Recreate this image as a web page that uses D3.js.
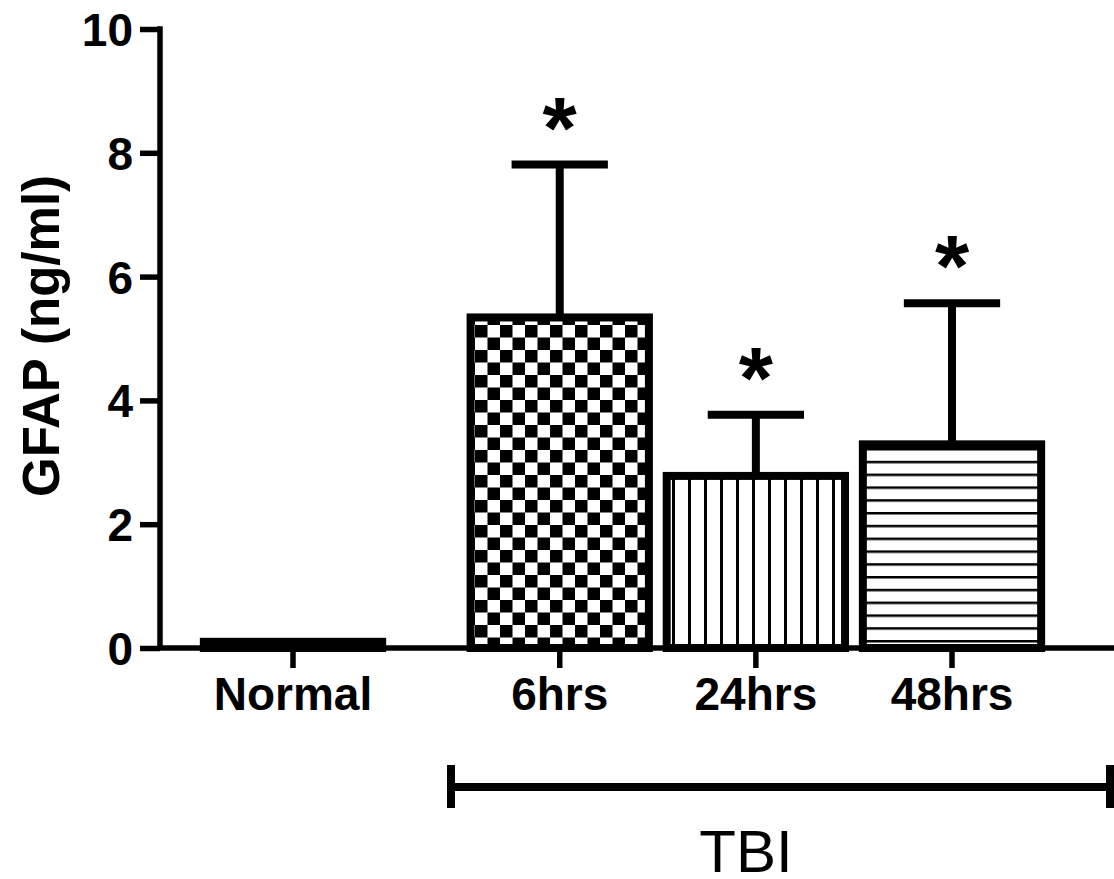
<!DOCTYPE html>
<html>
<head>
<meta charset="utf-8">
<script src="https://cdn.jsdelivr.net/npm/d3@7"></script>
<style>
  body { margin: 0; background: #fff; }
  svg { display: block; }
  text { font-family: "Liberation Sans", Arial, sans-serif; fill: #000; }
</style>
</head>
<body>
<svg></svg>
<script>
var width = 1114;
var height = 879;

// data
var categories = ["Normal", "6hrs", "24hrs", "48hrs"];
var means = [0.1, 5.34, 2.78, 3.29];
var errors = [0, 2.47, 0.99, 2.28];
var significant = [false, true, true, true];
var yTicks = [0, 2, 4, 6, 8, 10];
var groupLabel = "TBI";

var gapAfterFirst = 0.36; // extra space between Normal and the TBI bars
var lineW = 8;
var axisW = 5.5;

var svg = d3.select("svg")
            .attr("width", width)
            .attr("height", height);

// fill patterns
var defs = svg.append("defs");
var checker = defs.append("pattern")
                  .attr("id", "checker")
                  .attr("patternUnits", "userSpaceOnUse")
                  .attr("width", 25).attr("height", 25);
checker.append("rect").attr("width", 25).attr("height", 25).attr("fill", "#fff");
checker.append("rect").attr("width", 12.5).attr("height", 12.5).attr("fill", "#000");
checker.append("rect").attr("x", 12.5).attr("y", 12.5).attr("width", 12.5).attr("height", 12.5).attr("fill", "#000");

var vlines = defs.append("pattern")
                 .attr("id", "vlines")
                 .attr("patternUnits", "userSpaceOnUse")
                 .attr("width", 16).attr("height", 16);
vlines.append("rect").attr("width", 16).attr("height", 16).attr("fill", "#fff");
vlines.append("rect").attr("x", 0).attr("width", 3).attr("height", 16).attr("fill", "#000");

var hlines = defs.append("pattern")
                 .attr("id", "hlines")
                 .attr("patternUnits", "userSpaceOnUse")
                 .attr("width", 13).attr("height", 12.8);
hlines.append("rect").attr("width", 13).attr("height", 12.8).attr("fill", "#fff");
hlines.append("rect").attr("y", 0).attr("width", 13).attr("height", 2.5).attr("fill", "#000");

var fills = { "Normal": "#fff", "6hrs": "url(#checker)", "24hrs": "url(#vlines)", "48hrs": "url(#hlines)" };

// scales
function slot(i) { return i === 0 ? 0 : i + gapAfterFirst; }

var scaleX = d3.scaleLinear()
               .domain([0, slot(categories.length - 1)])
               .range([293, 952]);
var slotW = scaleX(1) - scaleX(0);
var barW = slotW * 0.95 - lineW;

var scaleY = d3.scaleLinear()
               .domain([0, 10])
               .range([648, 29]);

var data = categories.map(function(c, i) {
  return { cat: c, i: i, mean: means[i], err: errors[i], sig: significant[i] };
});

// bars
var bars = svg.append("g").attr("class", "bars");
bars.selectAll("rect")
    .data(data)
    .enter()
    .append("rect")
    .attr("x", function(d) { return scaleX(slot(d.i)) - barW / 2; })
    .attr("y", function(d) { return scaleY(d.mean); })
    .attr("width", barW)
    .attr("height", function(d) { return scaleY(0) - scaleY(d.mean); })
    .attr("fill", function(d) { return fills[d.cat]; })
    .attr("stroke", "#000")
    .attr("stroke-width", lineW);

// error bars (upper only)
var errs = svg.append("g").attr("class", "errors")
              .selectAll("g")
              .data(data.filter(function(d) { return d.err > 0; }))
              .enter()
              .append("g");
errs.append("line")
    .attr("x1", function(d) { return scaleX(slot(d.i)); })
    .attr("x2", function(d) { return scaleX(slot(d.i)); })
    .attr("y1", function(d) { return scaleY(d.mean); })
    .attr("y2", function(d) { return scaleY(d.mean + d.err); })
    .attr("stroke", "#000")
    .attr("stroke-width", lineW);
errs.append("line")
    .attr("x1", function(d) { return scaleX(slot(d.i)) - barW * 0.27; })
    .attr("x2", function(d) { return scaleX(slot(d.i)) + barW * 0.27; })
    .attr("y1", function(d) { return scaleY(d.mean + d.err); })
    .attr("y2", function(d) { return scaleY(d.mean + d.err); })
    .attr("stroke", "#000")
    .attr("stroke-width", lineW);

// significance stars
svg.append("g").attr("class", "stars")
   .selectAll("text")
   .data(data.filter(function(d) { return d.sig; }))
   .enter()
   .append("text")
   .attr("x", function(d) { return scaleX(slot(d.i)); })
   .attr("y", function(d) { return scaleY(d.mean + d.err) - 7; })
   .attr("text-anchor", "middle")
   .style("font-size", "88px")
   .style("font-weight", "bold")
   .text("*");

// y axis
var yAxis = d3.axisLeft(scaleY)
              .tickValues(yTicks)
              .tickSizeInner(20)
              .tickSizeOuter(0)
              .tickPadding(7);
var gy = svg.append("g")
            .attr("class", "yAxis")
            .attr("transform", "translate(160,0)")
            .call(yAxis);
gy.select(".domain").attr("stroke-width", axisW).attr("d", "M0," + (scaleY(10) - axisW / 2) + "V" + scaleY(0));
gy.selectAll(".tick line").attr("stroke-width", axisW);
gy.selectAll(".tick text")
  .style("font-size", "46px")
  .style("font-weight", "bold")
  .style("font-family", "'Liberation Sans', Arial, sans-serif")
  .attr("dy", "0.36em");

// x axis
var gx = svg.append("g").attr("class", "xAxis");
gx.append("line")
  .attr("x1", 160 - axisW / 2).attr("x2", width)
  .attr("y1", scaleY(0)).attr("y2", scaleY(0))
  .attr("stroke", "#000").attr("stroke-width", axisW);
gx.selectAll(".xtick")
  .data(data)
  .enter()
  .append("line")
  .attr("x1", function(d) { return scaleX(slot(d.i)); })
  .attr("x2", function(d) { return scaleX(slot(d.i)); })
  .attr("y1", scaleY(0))
  .attr("y2", scaleY(0) + 20)
  .attr("stroke", "#000").attr("stroke-width", axisW);
gx.selectAll(".xlabel")
  .data(data)
  .enter()
  .append("text")
  .attr("x", function(d) { return scaleX(slot(d.i)); })
  .attr("y", 710)
  .attr("text-anchor", "middle")
  .style("font-size", "46px")
  .style("font-weight", "bold")
  .text(function(d) { return d.cat; });

// y title
svg.append("text")
   .attr("transform", "translate(59,336) rotate(-90)")
   .attr("text-anchor", "middle")
   .style("font-size", "51px")
   .style("font-weight", "bold")
   .text("GFAP (ng/ml)");

// TBI bracket
var bx1 = 451, bx2 = 1110, by = 787;
var br = svg.append("g").attr("class", "bracket");
br.append("line").attr("x1", bx1).attr("x2", bx2).attr("y1", by).attr("y2", by)
  .attr("stroke", "#000").attr("stroke-width", lineW);
br.selectAll(".end")
  .data([bx1, bx2])
  .enter()
  .append("line")
  .attr("x1", function(d) { return d; }).attr("x2", function(d) { return d; })
  .attr("y1", by - 22).attr("y2", by + 21)
  .attr("stroke", "#000").attr("stroke-width", lineW);
br.append("text")
  .attr("x", 746)
  .attr("y", 872)
  .attr("text-anchor", "middle")
  .style("font-size", "60px")
  .text(groupLabel);
</script>
</body>
</html>
